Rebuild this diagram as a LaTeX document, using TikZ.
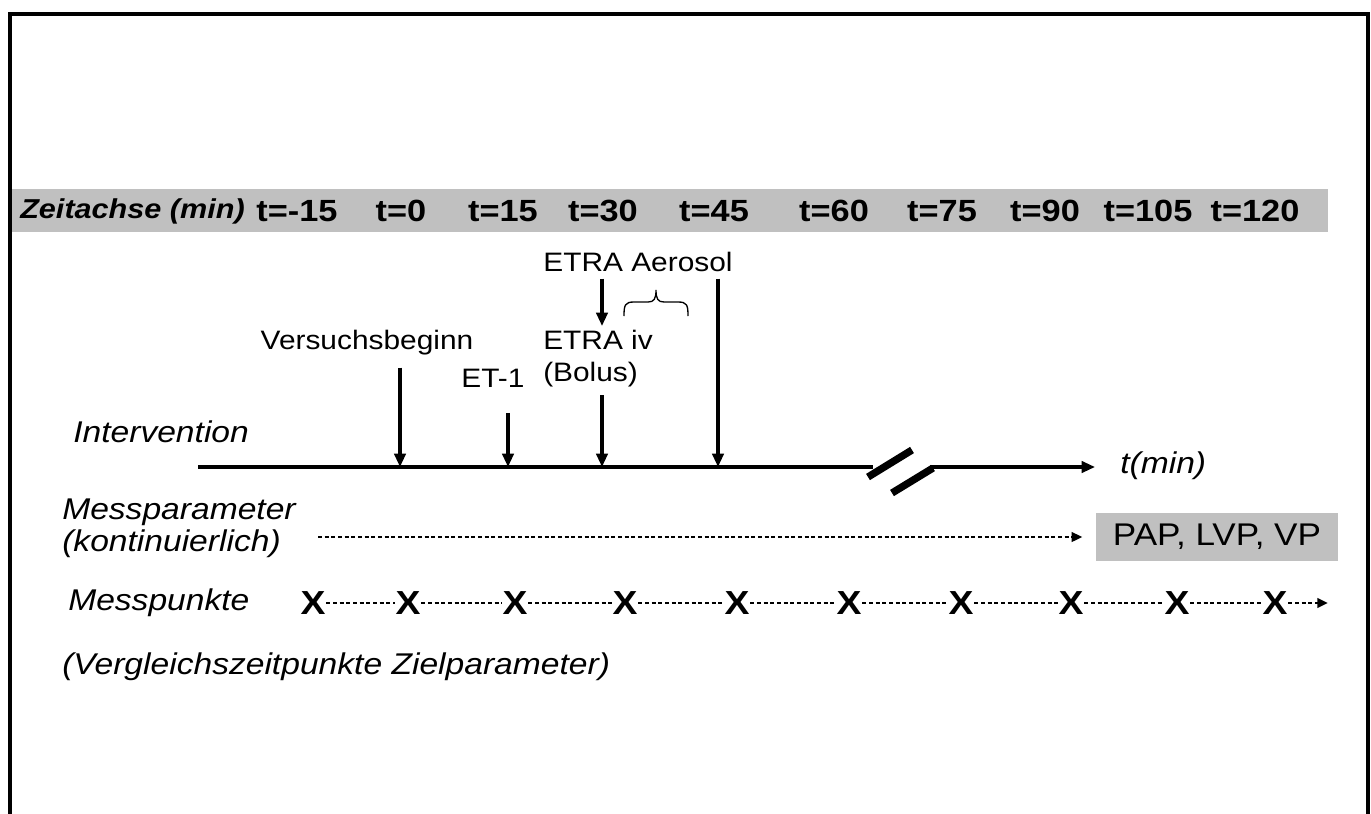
\documentclass[tikz,border=0pt]{standalone}
\usepackage{fontspec}
\setmainfont{Liberation Sans}[FakeStretch=1.12]
\usetikzlibrary{arrows.meta,positioning}
\definecolor{barfill}{HTML}{C0C0C0}
\begin{document}
\begin{tikzpicture}[x=0.75pt,y=-0.75pt,>={Triangle[length=10pt,width=8.5pt]},
  lbl/.style={font=\fontsize{20}{24}\selectfont, inner sep=0pt},
  ital/.style={font=\fontsize{22.5}{24}\selectfont\itshape, anchor=west, inner sep=0pt},
  zeit/.style={font=\fontsize{23}{26}\selectfont\bfseries, inner sep=0pt},
  pfeil/.style={->, line width=2.3pt},
  punkt/.style={line width=2pt, dash pattern=on 3pt off 2pt},
  kreuz/.style={font=\fontsize{25}{26}\selectfont\bfseries, inner sep=0.5pt}]
\useasboundingbox (0,0) rectangle (1371,814);
\draw[line width=3pt] (10,814) -- (10,13.5) -- (1368,13.5) -- (1368,814);
\fill[barfill] (12,189) rectangle (1328,232);
\node[zeit, font=\fontsize{20.5}{24}\selectfont\bfseries\itshape, anchor=west] (zeitachse) at (20,211) {Zeitachse (min)};
\foreach \x/\t [count=\i] in {297/-15,401/0,503/15,603/30,714/45,834/60,942/75,1045/90,1148/105,1255/120}
  \node[zeit] (z\i) at (\x,211) {t=\t};
\coordinate (a0) at (198,467);
\coordinate (b1) at (873,467);
\coordinate (b2) at (930,467);
\coordinate (aE) at (1095,467);
\coordinate (p0) at (400,467);
\coordinate (p15) at (508,467);
\coordinate (p30) at (602,467);
\coordinate (p45) at (718,467);
\node[lbl] (aer) at (638,262) {ETRA Aerosol};
\node[lbl, anchor=north west, align=left] (iv) at (543,330) {ETRA iv\\(Bolus)};
\node[lbl] (vb) at (367,343) {Versuchsbeginn};
\node[lbl] (et) at (493,378) {ET-1};
\node[ital] (int) at (73,432) {Intervention};
\node[ital] (tmin) at (1120,466) {t(min)};
\draw[pfeil] ([yshift=-9pt]vb.south -| p0) -- (p0);
\draw[pfeil] ([yshift=-19pt]et.south -| p15) -- (p15);
\draw[pfeil] ([yshift=-6pt]iv.south -| p30) -- (p30);
\draw[pfeil] ([yshift=-5pt]aer.south -| p30) -- ([yshift=3pt]iv.north -| p30);
\draw[pfeil] ([yshift=-5pt]aer.south -| p45) -- (p45);
\draw[line width=1pt] (624,316) .. controls (624,305) and (625,302) .. (634,302)
  -- (648,302) .. controls (654,302) and (656,299) .. (656,290)
  .. controls (656,299) and (658,302) .. (664,302) -- (678,302)
  .. controls (687,302) and (688,305) .. (688,316);
\draw[line width=2.3pt] (a0) -- (b1);
\draw[pfeil] (b2) -- (aE);
\draw[line width=5.5pt] (868,477) -- (912,450);
\draw[line width=5.5pt] (892,493) -- (933,468);
\node[ital, anchor=north west, align=left] (mp) at (62,499) {Messparameter\\(kontinuierlich)};
\node[lbl, fill=barfill, minimum width=181.5pt, minimum height=36pt, font=\fontsize{23.5}{24}\selectfont] (pap) at (1217,537) {PAP, LVP, VP};
\coordinate (k0) at (318,537);
\draw[punkt, -{Triangle[length=8pt,width=7pt]}, shorten >=10pt] (k0) -- (pap);
\node[ital] (mpk) at (68,603) {Messpunkte};
\foreach \x [count=\i] in {313,408,515,625,737,849,961,1071,1177,1275}
  \node[kreuz] (x\i) at (\x,603) {X};
\foreach \i/\j in {1/2,2/3,3/4,4/5,5/6,6/7,7/8,8/9,9/10}
  \draw[punkt] (x\i) -- (x\j);
\coordinate (xend) at (1328,603);
\draw[punkt, -{Triangle[length=8pt,width=7pt]}] (x10) -- (xend);
\node[ital] (vgl) at (62,667) {(Vergleichszeitpunkte Zielparameter)};
\end{tikzpicture}
\end{document}
